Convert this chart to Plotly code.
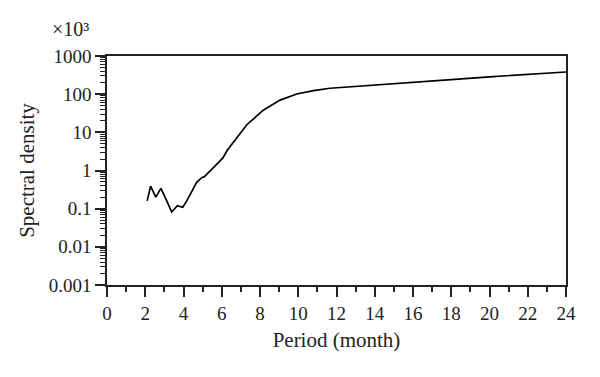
import plotly.graph_objects as go

# Data (period in months, spectral density x10^3)
period = [2.1, 2.28, 2.55, 2.82, 3.1, 3.38, 3.68, 3.96, 4.17, 4.45, 4.69, 4.95, 5.09,
          5.5, 6.05, 6.29, 6.69, 7.3, 8.17, 9.05, 9.92, 10.79, 11.66, 13.4, 15.15,
          16.88, 18.0, 20.0, 22.0, 24.0]
density = [0.16, 0.39, 0.20, 0.34, 0.17, 0.082, 0.12, 0.109, 0.16, 0.3, 0.49, 0.65, 0.69,
           1.1, 2.1, 3.4, 6.3, 15.6, 38, 70, 101, 124, 143, 164, 185,
           212, 240, 285, 330, 381]

y_ticks = [0.001, 0.01, 0.1, 1, 10, 100, 1000]
y_ticktext = ["0.001", "0.01", "0.1", "1", "10", "100", "1000"]
x_ticks = list(range(0, 25, 2))

minor_y = [m * 10 ** e for e in range(-3, 3) for m in range(2, 10)]

font_family = "Liberation Serif"

fig = go.Figure()
fig.add_trace(go.Scatter(x=period, y=density, mode="lines",
                         line=dict(color="black", width=1.7), showlegend=False))

fig.update_layout(
    width=600, height=377,
    margin=dict(l=99, r=42, t=48, b=100),
    paper_bgcolor="white", plot_bgcolor="white",
    font=dict(family=font_family, size=19, color="#222"),
    xaxis=dict(
        range=[0, 24], tickvals=x_ticks, ticks="outside", ticklen=10, tickwidth=1.5,
        tickcolor="#222", showline=True, linecolor="#222", linewidth=1.5, mirror=True,
        showgrid=False, zeroline=False,
        minor=dict(tickvals=list(range(1, 24, 2)), ticks="outside", ticklen=5,
                   tickwidth=1.5, tickcolor="#222"),
        title=dict(text="Period (month)", standoff=10, font=dict(size=21)),
        tickfont=dict(size=19),
    ),
    yaxis=dict(
        type="log", range=[-3, 3], tickvals=y_ticks, ticktext=y_ticktext,
        ticks="outside", ticklen=10, tickwidth=1.5, tickcolor="#222",
        showline=True, linecolor="#222", linewidth=1.5, mirror=True,
        showgrid=False, zeroline=False,
        minor=dict(tickvals=minor_y, ticks="outside", ticklen=5, tickwidth=1.2,
                   tickcolor="#222"),
        title=dict(text="Spectral density", standoff=8, font=dict(size=21)),
        tickfont=dict(size=19),
    ),
    annotations=[dict(text="×10³", x=0, y=1, xref="paper", yref="paper",
                      xanchor="right", yanchor="bottom", xshift=-16, yshift=14,
                      showarrow=False, font=dict(size=20, family=font_family, color="#222"))],
)

fig.write_html("out.html")
